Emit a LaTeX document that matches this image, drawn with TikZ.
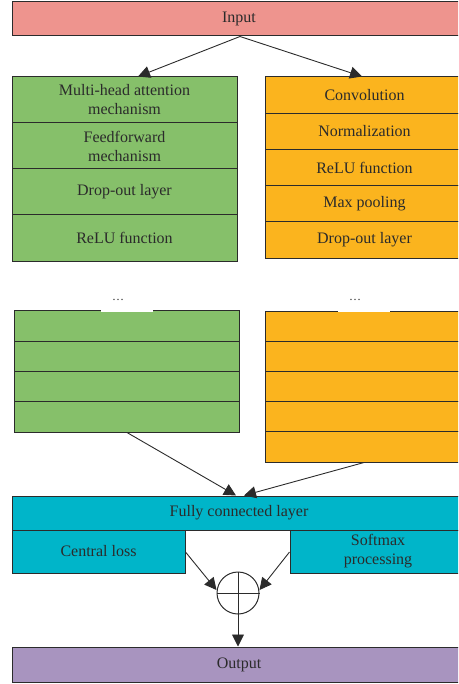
\documentclass[tikz,border=0pt]{standalone}
\usepackage{fontspec}
\setmainfont{Liberation Serif}
\usetikzlibrary{arrows.meta}
\definecolor{inpink}{HTML}{EE948E}
\definecolor{tgreen}{HTML}{86C06A}
\definecolor{corange}{HTML}{FBB41E}
\definecolor{fccyan}{HTML}{00B5C9}
\definecolor{outpurple}{HTML}{A894BF}
\definecolor{ink}{HTML}{2B2B2B}
\tikzset{
  cell/.style={draw=ink, line width=1pt, rectangle, inner sep=0pt, align=center,
    text=ink, font=\fontsize{16}{19}\selectfont},
  conn/.style={draw=ink, line width=0.9pt, -{Triangle[length=12pt,width=12pt]}},
  dots/.style={text=ink, font=\fontsize{12}{12}\selectfont, inner sep=0pt}
}
\begin{document}
\begin{tikzpicture}[x=1pt,y=-1pt]
\useasboundingbox (0,0) rectangle (458,684);
\clip (0,0) rectangle (458,684);
% Input
\node[cell, fill=inpink, minimum width=454pt, minimum height=34pt] (input) at (239,19) {Input};
% Transformer block
\node[cell, fill=tgreen, minimum width=225pt, minimum height=46pt] (g1) at (124.5,100) {Multi-head attention\\mechanism};
\node[cell, fill=tgreen, minimum width=225pt, minimum height=46pt] (g2) at (124.5,146) {Feedforward\\mechanism};
\node[cell, fill=tgreen, minimum width=225pt, minimum height=46pt] (g3) at (124.5,192) {Drop-out layer};
\node[cell, fill=tgreen, minimum width=225pt, minimum height=46pt] (g4) at (124.5,238) {ReLU function};
% CNN block
\node[cell, fill=corange, minimum width=199pt, minimum height=36.2pt] (o1) at (364.5,95.1) {Convolution};
\node[cell, fill=corange, minimum width=199pt, minimum height=36.2pt] (o2) at (364.5,131.3) {Normalization};
\node[cell, fill=corange, minimum width=199pt, minimum height=36.2pt] (o3) at (364.5,167.5) {ReLU function};
\node[cell, fill=corange, minimum width=199pt, minimum height=36.2pt] (o4) at (364.5,203.7) {Max pooling};
\node[cell, fill=corange, minimum width=199pt, minimum height=36.2pt] (o5) at (364.5,239.9) {Drop-out layer};
% input arrows
\draw[conn] (input.south -| 240,0) -- (g1.north -| 138,0);
\draw[conn] (input.south -| 240,0) -- (o1.north -| 362,0);
% second green block
\node[cell, fill=tgreen, minimum width=225pt, minimum height=30.25pt] (h1) at (126.5,326.1) {};
\node[cell, fill=tgreen, minimum width=225pt, minimum height=30.25pt] (h2) at (126.5,356.4) {};
\node[cell, fill=tgreen, minimum width=225pt, minimum height=30.25pt] (h3) at (126.5,386.6) {};
\node[cell, fill=tgreen, minimum width=225pt, minimum height=30.25pt] (h4) at (126.5,416.9) {};
\draw[white, line width=1.6pt] (101,311) -- (153,311);
\node[dots] (gd) at (118,300) {\dots};
% second orange block
\node[cell, fill=corange, minimum width=199pt, minimum height=30.2pt] (p1) at (364.5,326.1) {};
\node[cell, fill=corange, minimum width=199pt, minimum height=30.2pt] (p2) at (364.5,356.3) {};
\node[cell, fill=corange, minimum width=199pt, minimum height=30.2pt] (p3) at (364.5,386.5) {};
\node[cell, fill=corange, minimum width=199pt, minimum height=30.2pt] (p4) at (364.5,416.7) {};
\node[cell, fill=corange, minimum width=199pt, minimum height=30.2pt] (p5) at (364.5,446.9) {};
\draw[white, line width=1.6pt] (338,311) -- (390,311);
\node[dots] (od) at (355,300) {\dots};
% fully connected
\node[cell, fill=fccyan, minimum width=454pt, minimum height=34pt] (fc) at (239,513) {Fully connected layer};
\node[cell, fill=fccyan, minimum width=173pt, minimum height=43pt] (cl) at (98.5,551.5) {Central loss};
\node[cell, fill=fccyan, minimum width=176pt, minimum height=43pt] (sm) at (378,551.5) {Softmax\\processing};
\draw[conn] (h4.south -| 127,0) -- (fc.north -| 236,0);
\draw[conn] (p5.south -| 364,0) -- (fc.north -| 244,0);
% sum node
\node[circle, draw=ink, line width=1pt, minimum size=42pt, inner sep=0pt] (sum) at (238,593) {};
\draw[ink, line width=0.9pt] (sum.north) -- (sum.south) (sum.west) -- (sum.east);
\draw[conn] (cl.east |- 0,552) -- (sum.west |- 0,590);
\draw[conn] (sm.west |- 0,552) -- (sum.east |- 0,590);
% output
\node[cell, fill=outpurple, minimum width=454pt, minimum height=35pt] (out) at (239,664.5) {Output};
\draw[conn] (sum.south) -- (out.north -| sum.south);
\end{tikzpicture}
\end{document}
